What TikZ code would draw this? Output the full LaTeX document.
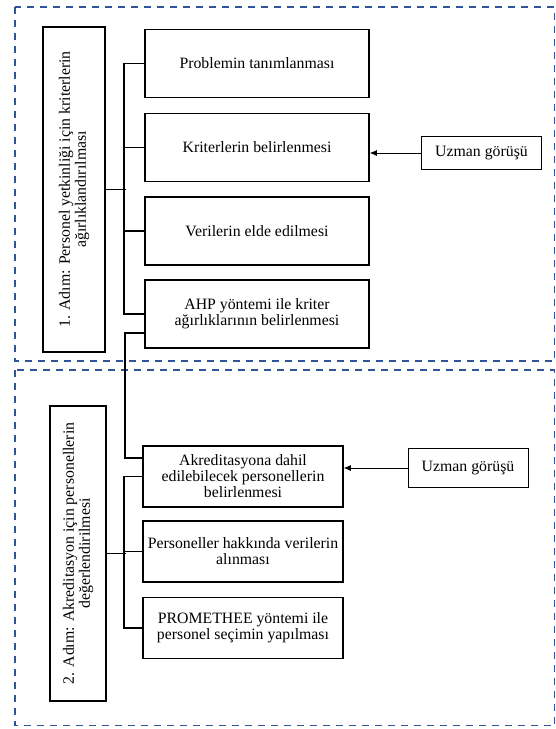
\documentclass[tikz,border=0pt]{standalone}
\usepackage{fontspec}
\setmainfont{Liberation Serif}
\usetikzlibrary{arrows.meta}
\definecolor{frameblue}{RGB}{47,85,151}
\begin{document}
\begin{tikzpicture}[x=1pt,y=-1pt,
  every node/.style={font=\fontsize{15.8}{16}\selectfont},
  stepbox/.style={draw, line width=1.6pt, align=center, inner sep=2pt},
  topbox/.style={stepbox, minimum width=224pt, minimum height=68pt},
  lowbox/.style={stepbox, minimum width=200pt, minimum height=61pt},
  opinion/.style={draw, line width=0.8pt, align=center, minimum width=120pt},
  frame/.style={draw=frameblue, line width=1.5pt, dash pattern=on 7pt off 6pt},
  link/.style={line width=1.5pt},
  arr/.style={line width=0.8pt, -{Latex[length=7pt,width=6pt]}}]
\useasboundingbox (0,0) rectangle (556,729);

% frames
\draw[frame] (15,7) rectangle (554.5,361);
\draw[frame] (15,370) rectangle (554.5,725.5);

% left step boxes
\node[stepbox, rotate=90, minimum width=325pt, minimum height=62pt] (L1) at (74,189.5)
  {1. Adım: Personel yetkinliği için kriterlerin\\ağırlıklandırılması};
\node[stepbox, rotate=90, minimum width=295pt, minimum height=56pt] (L2) at (78,553.5)
  {2. Adım: Akreditasyon için personellerin\\değerlendirilmesi};

% top boxes
\node[topbox] (b1) at (257,63.5) {Problemin tanımlanması};
\node[topbox] (b2) at (257,147.5) {Kriterlerin belirlenmesi};
\node[topbox] (b3) at (257,231) {Verilerin elde edilmesi};
\node[topbox] (b4) at (257,314) {AHP yöntemi ile kriter\\ağırlıklarının belirlenmesi};

% bottom boxes
\node[lowbox] (b5) at (243,476.5) {Akreditasyona dahil\\edilebilecek personellerin\\belirlenmesi};
\node[lowbox] (b6) at (243,551.5) {Personeller hakkında verilerin\\alınması};
\node[lowbox] (b7) at (243,628) {PROMETHEE yöntemi ile\\personel seçimin yapılması};

% expert opinion boxes
\node[opinion, minimum height=33pt] (u1) at (481.5,153) {Uzman görüşü};
\node[opinion, minimum height=39pt] (u2) at (468,468) {Uzman görüşü};

% top branch
\draw[link] (L1.south) -- ++(20,0);
\draw[link] (b1.west) -- ++(-20,0) |- (b4.west);
\draw[link] (b2.west) -- ++(-20,0);
\draw[link] (b3.west) -- ++(-20,0);

% link between steps
\draw[link] ([yshift=-19pt]b4.west) -- ++(-19,0) |- ([yshift=18.5pt]b5.west);

% bottom branch
\draw[link] (L2.south) -- ++(19,0);
\draw[link] (b5.west) -- ++(-18,0) |- (b7.west);
\draw[link] (b6.west) -- ++(-18,0);

% arrows
\draw[arr] (u1.west) -- (u1.west -| b2.east);
\draw[arr] (u2.west) -- (u2.west -| b5.east);
\end{tikzpicture}
\end{document}
